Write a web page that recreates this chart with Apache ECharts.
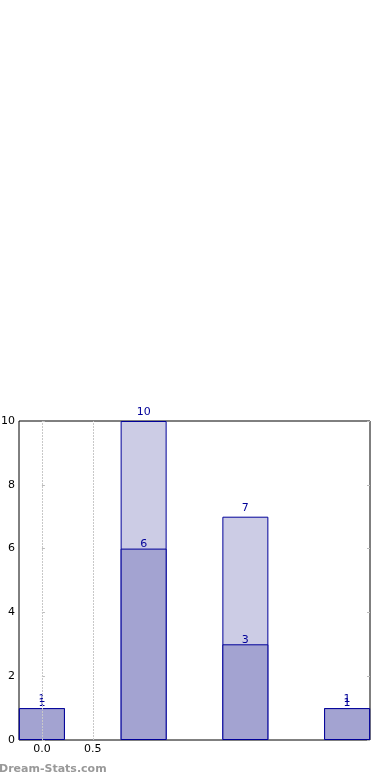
<!DOCTYPE html>
<html>
<head>
<meta charset="utf-8">
<script src="https://cdn.jsdelivr.net/npm/echarts@6/dist/echarts.min.js"></script>
<style>
html,body{margin:0;padding:0;background:#fff;}
#chart{width:390px;height:780px;}
</style>
</head>
<body>
<div id="chart"></div>
<script>
// Data
var positions = [0, 1, 2, 3];
var totalValues = [1, 10, 7, 1];
var partValues = [1, 6, 3, 1];
var xTickLabels = [0, 0.5];
var yTicks = [0, 2, 4, 6, 8, 10];

var FONT = 'DejaVu Sans';
var EDGE = '#000099';

function pairs(vals) {
  return positions.map(function (p, i) { return [p, vals[i]]; });
}

var chart = echarts.init(document.getElementById('chart'), null, {renderer: 'canvas'});
chart.setOption({
  animation: false,
  backgroundColor: '#fff',
  grid: {left: 19, top: 421, right: 20, bottom: 40, show: true, borderColor: '#000', borderWidth: 1,
         containLabel: false, outerBoundsMode: 'none'},
  xAxis: {
    type: 'value', min: -0.225, max: 3.225,
    axisLine: {show: false},
    splitLine: {show: false},
    axisTick: {show: false},
    axisLabel: {
      customValues: xTickLabels,
      formatter: function (v) { return v.toFixed(1); },
      color: '#000', fontFamily: FONT, fontSize: 11, margin: 4
    }
  },
  yAxis: [{
    type: 'value', min: 0, max: 10, interval: 2,
    axisLine: {show: false},
    splitLine: {show: false},
    axisTick: {show: true, inside: true, length: 3, lineStyle: {color: '#bbb'}},
    axisLabel: {color: '#000', fontFamily: FONT, fontSize: 11, margin: 4}
  }, {
    type: 'value', min: 0, max: 10, interval: 2, position: 'right',
    axisLine: {show: false},
    splitLine: {show: false},
    axisTick: {show: true, inside: true, length: 3, lineStyle: {color: '#bbb'}},
    axisLabel: {show: false}
  }],
  series: [{
    type: 'bar',
    data: pairs(totalValues),
    barWidth: 46,
    barGap: '-100%',
    itemStyle: {color: '#ccccE5', borderColor: EDGE, borderWidth: 1},
    label: {show: true, position: 'top', distance: 3, color: EDGE, fontFamily: FONT, fontSize: 11},
    markLine: {
      silent: true, symbol: 'none',
      label: {show: false},
      lineStyle: {color: '#c8c8c8', type: [2, 1], width: 1},
      data: xTickLabels.map(function (v) { return {xAxis: v}; })
    },
    z: 1
  }, {
    type: 'bar',
    data: pairs(partValues),
    barWidth: 46,
    barGap: '-100%',
    itemStyle: {color: '#a3a3d1', borderColor: EDGE, borderWidth: 1},
    label: {show: true, position: 'top', distance: -1, color: EDGE, fontFamily: FONT, fontSize: 11},
    z: 2
  }],
  graphic: [{
    type: 'text', left: -1, top: 764,
    style: {text: 'Dream-Stats.com', fill: '#999', font: 'bold 11px "DejaVu Sans"'}
  }]
});
</script>
</body>
</html>
